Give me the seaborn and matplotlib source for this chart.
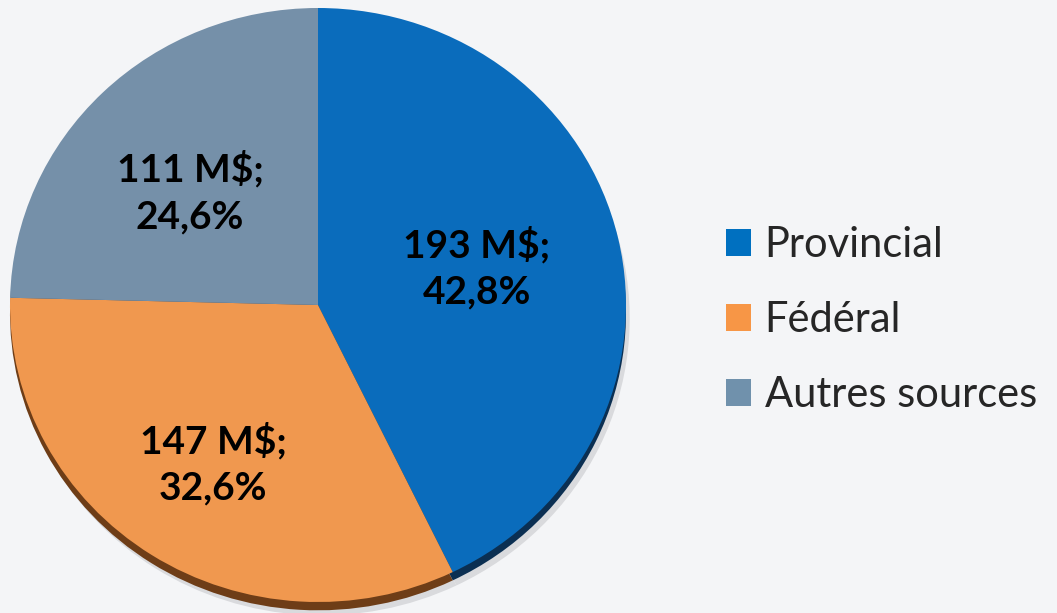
import matplotlib
matplotlib.use('Agg')
import matplotlib.pyplot as plt
import seaborn as sns
from matplotlib.patches import Patch

# Données
categories = ['Provincial', 'Fédéral', 'Autres sources']
montants = [193, 147, 111]
pourcentages = ['42,8%', '32,6%', '24,6%']
couleurs = ['#0a6cbc', '#f0984f', '#7590a9']
couleurs_bord = ['#0b2f52', '#6e3d17', '#3d5063']
couleurs_legende = ['#0070c0', '#f79646', '#7091ac']

sns.set_theme(style='white')
plt.rcParams['font.family'] = ['Lato', 'DejaVu Sans']

fond = '#f4f5f7'
fig = plt.figure(figsize=(10.57, 6.13), dpi=100, facecolor=fond)

# axe du camembert (légèrement elliptique comme l'original)
ax = fig.add_axes([10 / 1057, 1 - 602 / 613, 616 / 1057, 594 / 613])
ax.set_facecolor(fond)
ax.axis('off')

# ombre douce
ax.pie(montants, startangle=90, counterclock=False, radius=1.0,
       center=(0.012, -0.045), colors=['#d9dadd'] * 3,
       wedgeprops=dict(linewidth=0))
# épaisseur 3D
ax.pie(montants, startangle=90, counterclock=False, radius=1.0,
       center=(0.0, -0.028), colors=couleurs_bord,
       wedgeprops=dict(linewidth=0))
# dessus
wedges, _ = ax.pie(montants, startangle=90, counterclock=False, radius=1.0,
                   colors=couleurs, wedgeprops=dict(linewidth=0))
ax.set_xlim(-1, 1)
ax.set_ylim(-1, 1)
ax.set_aspect('auto')

# étiquettes
positions = [(0.516, 0.125), (-0.34, -0.535), (-0.415, 0.38)]
for (x, y), m, p in zip(positions, montants, pourcentages):
    ax.text(x, y, f'{m} M$;\n{p}', ha='center', va='center',
            fontsize=28, fontweight='bold', color='black', linespacing=1.4)

# légende
handles = [Patch(facecolor=c, edgecolor='none') for c in couleurs_legende]
fig.legend(handles, categories, loc='center left',
           bbox_to_anchor=(688 / 1057, 1 - 320 / 613), frameon=False,
           fontsize=30, handlelength=0.62, handleheight=0.62,
           handletextpad=0.32, labelspacing=0.88)

fig.savefig('out.png', dpi=100, facecolor=fond)
